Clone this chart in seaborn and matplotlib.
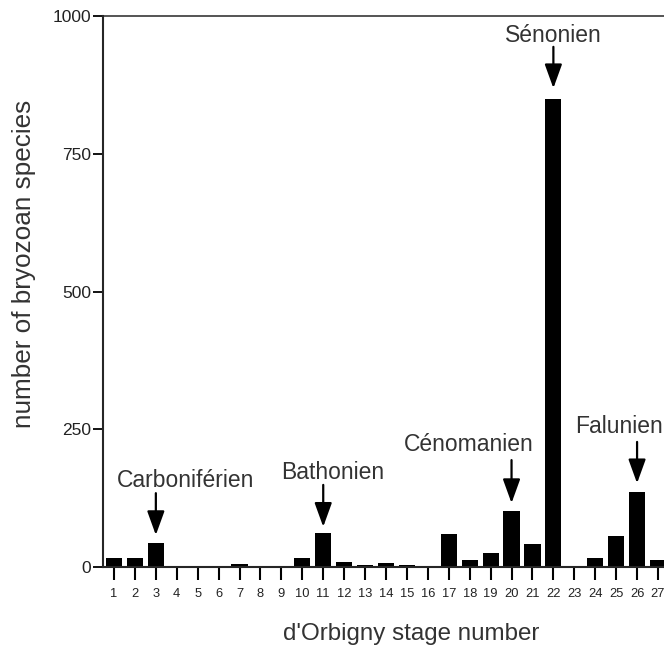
import matplotlib
matplotlib.use("Agg")
import matplotlib.pyplot as plt
import seaborn as sns
import pandas as pd

stages = list(range(1, 28))
species = [17, 17, 43, 0, 0, 0, 5, 0, 0, 17, 61, 9, 4, 8, 4, 0,
           60, 13, 26, 101, 42, 850, 0, 17, 56, 137, 13]
stage_labels = [str(s) for s in stages]
yticks = [0, 250, 500, 750, 1000]

# annotations
ann_names = ["Carboniférien", "Bathonien", "Cénomanien", "Sénonien", "Falunien"]
ann_stage = [3, 11, 20, 22, 26]
ann_text_x = [4.42, 11.47, 17.96, 22.0, 25.12]
ann_text_y = [146, 159, 211, 953, 244]
ann_tail = [134, 149, 194, 944, 227]
ann_tip = [58, 73, 116, 869, 152]

df = pd.DataFrame({"stage": stages, "species": species})

sns.set_style("ticks")
plt.rcParams["font.family"] = ["Liberation Sans", "DejaVu Sans"]

fig = plt.figure(figsize=(6.64, 6.48), dpi=100)
ax = fig.add_axes([103 / 664, 81 / 648, 566 / 664, 551 / 648])

sns.barplot(data=df, x="stage", y="species", native_scale=True, color="black",
            width=0.77, saturation=1, ax=ax, edgecolor="black", linewidth=0)

ax.set_xlim(0.474, 27.526)
ax.set_ylim(0, 1000)
ax.set_xticks(stages)
ax.set_xticklabels(stage_labels)
ax.set_yticks(yticks)
ax.set_yticklabels([str(v) for v in yticks])

for side in ["left", "bottom"]:
    ax.spines[side].set_linewidth(1.5)
for side in ["top", "right"]:
    ax.spines[side].set_visible(True)
    ax.spines[side].set_linewidth(1.1)

ax.tick_params(axis="y", length=7.2, width=1.3, labelsize=12.5, pad=1.5, colors="black")
ax.tick_params(axis="x", length=9.4, width=1.5, labelsize=9.3, pad=6, colors="black")
for t in ax.get_xticklabels() + ax.get_yticklabels():
    t.set_color("#222222")

ax.set_xlabel("d'Orbigny stage number", fontsize=17.4, color="#333333")
ax.set_ylabel("number of bryozoan species", fontsize=18.8, color="#333333")
ax.xaxis.set_label_coords(0.544, -0.1216)
ax.yaxis.set_label_coords(-0.1396, 0.55)
ax.xaxis.label.set_va("center")
ax.yaxis.label.set_va("center")

for name, st, tx, ty, tail, tip in zip(ann_names, ann_stage, ann_text_x, ann_text_y, ann_tail, ann_tip):
    ax.text(tx, ty, name, ha="center", va="baseline", fontsize=16.5, color="#333333")
    ax.annotate("", xy=(st, tip), xytext=(st, tail),
                arrowprops=dict(arrowstyle="-|>,head_length=1.05,head_width=0.38",
                                lw=1.6, color="black", mutation_scale=14,
                                shrinkA=0, shrinkB=0))

fig.savefig("out.png", dpi=100)
